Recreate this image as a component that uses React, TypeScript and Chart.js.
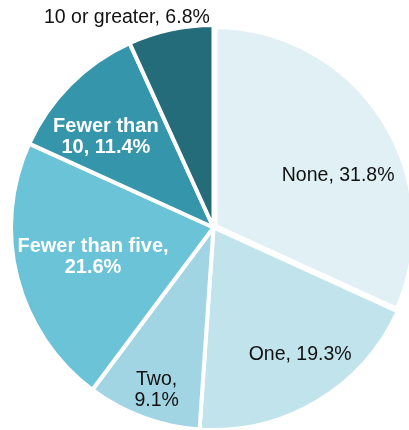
import React, { useEffect, useRef } from "react";
import { Chart, registerables } from "chart.js";

Chart.register(...registerables);

const categories = ["None", "One", "Two", "Fewer than five", "Fewer than 10", "10 or greater"];
const values = [31.8, 19.3, 9.1, 21.6, 11.4, 6.8];
const labelLines = [
  ["None, 31.8%"],
  ["One, 19.3%"],
  ["Two,", "9.1%"],
  ["Fewer than five,", "21.6%"],
  ["Fewer than", "10, 11.4%"],
  ["10 or greater, 6.8%"],
];
const colors = ["#e1f0f5", "#c0e3ec", "#a2d5e3", "#6bc3d7", "#3595aa", "#246c7a"];
const borderWidths = [8, 4, 4, 4, 4, 4];
// label placement: [fraction of radius, angle shift in degrees]
const labelPlace = [
  [0.67, 9.5],
  [0.75, -4],
  [0.84, -0.8],
  [0.61, 1.6],
  [0.7, -4.4],
  [1.13, -10],
];
const labelColor = ["#111111", "#111111", "#111111", "#ffffff", "#ffffff", "#111111"];
const labelBold = [false, false, false, true, true, false];

const labelPlugin = {
  id: "sliceLabels",
  afterDatasetsDraw(chart: any) {
    const ctx = chart.ctx;
    const meta = chart.getDatasetMeta(0);
    meta.data.forEach((arc: any, i: number) => {
      const { x, y, startAngle, endAngle, outerRadius } = arc.getProps(
        ["x", "y", "startAngle", "endAngle", "outerRadius"],
        true
      );
      const [frac, shift] = labelPlace[i];
      const mid = (startAngle + endAngle) / 2 + (shift * Math.PI) / 180;
      const r = outerRadius * frac;
      const cx = x + Math.cos(mid) * r;
      const cy = y + Math.sin(mid) * r + 2;
      const lines = labelLines[i];
      const lh = 21;
      ctx.save();
      ctx.font = labelBold[i]
        ? `bold 20px "Liberation Sans", Arial, sans-serif`
        : `19.5px "Liberation Sans", Arial, sans-serif`;
      ctx.fillStyle = labelColor[i];
      ctx.textAlign = "center";
      ctx.textBaseline = "middle";
      lines.forEach((t, k) => {
        ctx.fillText(t, cx, cy + (k - (lines.length - 1) / 2) * lh);
      });
      ctx.restore();
    });
  },
};

export default function App() {
  const ref = useRef<HTMLCanvasElement>(null);
  useEffect(() => {
    document.body.style.margin = "0";
    const chart = new Chart(ref.current!, {
      type: "pie",
      data: {
        labels: categories,
        datasets: [
          {
            data: values,
            backgroundColor: colors,
            borderColor: "#ffffff",
            borderWidth: borderWidths,
          },
        ],
      },
      options: {
        responsive: false,
        animation: false,
        layout: { padding: { left: 7, right: 20, top: 21, bottom: 16 } },
        plugins: { legend: { display: false }, tooltip: { enabled: false } },
      },
      plugins: [labelPlugin],
    });
    return () => chart.destroy();
  }, []);
  return (
    <div
      style={{
        position: "fixed",
        left: 0,
        top: 0,
        width: 409,
        height: 430,
        overflow: "hidden",
        background: "#ffffff",
      }}
    >
      <canvas ref={ref} width={440} height={450} style={{ width: 440, height: 450, display: "block" }} />
    </div>
  );
}
